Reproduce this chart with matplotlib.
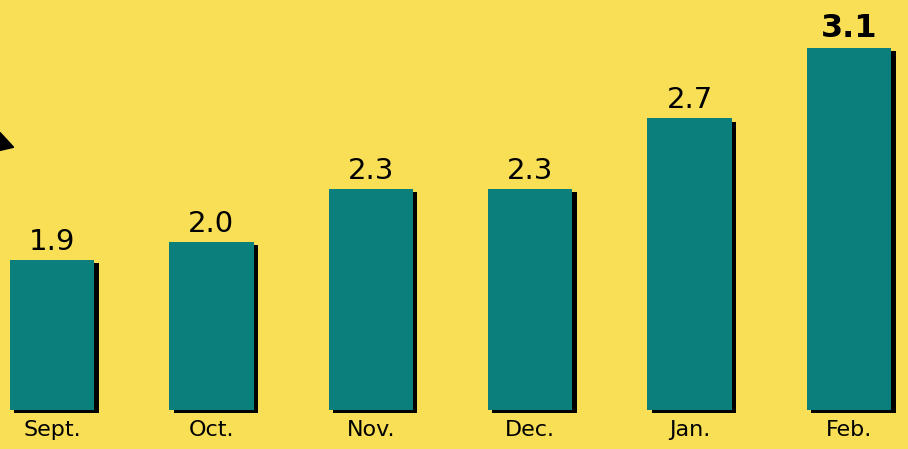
import matplotlib.pyplot as plt
import matplotlib.patheffects as pe
from matplotlib.patches import Polygon

# data
months = ["Sept.", "Oct.", "Nov.", "Dec.", "Jan.", "Feb."]
values = [1.9, 2.0, 2.3, 2.3, 2.7, 3.1]
labels = ["1.9", "2.0", "2.3", "2.3", "2.7", "3.1"]

yellow = "#f9df55"
teal = "#0a7f7b"
base = 1.05   # bars start above zero in the original

fig = plt.figure(figsize=(9.08, 4.49), dpi=100, facecolor=yellow)
ax = fig.add_axes([0, 0, 1, 1])
ax.set_facecolor(yellow)

x = list(range(len(months)))
shadow = [pe.SimplePatchShadow(offset=(3.2, -2.4), shadow_rgbFace="black", alpha=1.0), pe.Normal()]
bars = ax.bar(x, [v - base for v in values], bottom=base, width=0.53, color=teal)
for b in bars:
    b.set_path_effects(shadow)

# value labels above bars, last one bold
for i, (v, t) in enumerate(zip(values, labels)):
    bold = i == len(values) - 1
    ax.annotate(t, (i, v), xytext=(0, 3), textcoords="offset points",
                ha="center", va="bottom",
                fontsize=23 if bold else 21,
                fontweight="bold" if bold else "normal",
                color="black")

# month names under bars
for i, m in enumerate(months):
    ax.annotate(m, (i, base), xytext=(0, -7), textcoords="offset points",
                ha="center", va="top", fontsize=16, color="black")

# small arrow tip at left edge
ax.add_patch(Polygon([[0.0, 0.705], [0.0, 0.665], [0.015, 0.672]], closed=True,
                     transform=ax.transAxes, color="black"))

ax.set_xlim(-0.326, 5.37)
ax.set_ylim(0.829, 3.37)
ax.axis("off")

fig.savefig("out.png", dpi=100, facecolor=yellow)
